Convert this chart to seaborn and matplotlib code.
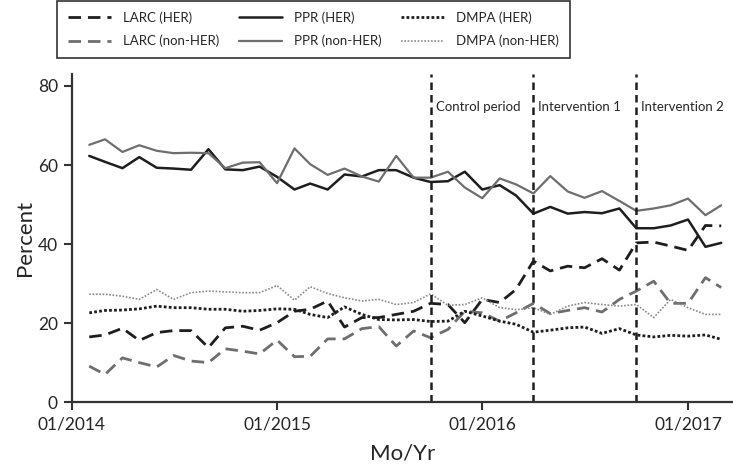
import pandas as pd
import seaborn as sns
import matplotlib.pyplot as plt
import matplotlib.dates as mdates

# monthly values, 02/2014 - 03/2017
months = pd.date_range('2014-02-01', periods=38, freq='MS')

larc_her = [16.5, 17.0, 18.7, 15.6, 17.6, 18.1, 18.1, 13.8, 18.8, 19.2, 18.2, 20.1, 23.0,
            23.5, 25.6, 19.0, 21.4, 21.4, 22.2, 23.0, 25.0, 24.7, 20.1, 26.0, 25.2, 28.5,
            35.7, 33.2, 34.4, 34.0, 36.3, 33.4, 40.3, 40.5, 39.5, 38.4, 44.7, 44.6]
larc_non = [9.1, 7.0, 11.2, 10.0, 8.9, 11.8, 10.4, 10.0, 13.5, 12.9, 12.2, 15.7, 11.5,
            11.6, 16.0, 16.0, 18.6, 19.1, 14.2, 18.0, 16.3, 18.4, 23.0, 22.6, 20.5, 22.6,
            25.0, 22.4, 23.2, 23.9, 22.8, 26.0, 28.1, 30.6, 25.0, 25.0, 31.5, 29.0]
ppr_her = [62.3, 60.8, 59.2, 62.0, 59.3, 59.1, 58.8, 64.0, 58.9, 58.7, 59.6, 57.0, 53.8,
           55.3, 53.8, 57.6, 57.1, 58.7, 58.7, 56.8, 55.7, 55.9, 58.3, 53.8, 54.9, 52.3,
           47.7, 49.4, 47.7, 48.1, 47.8, 49.0, 44.0, 44.0, 44.7, 46.2, 39.3, 40.3]
ppr_non = [65.1, 66.5, 63.3, 65.0, 63.6, 63.0, 63.1, 63.0, 59.2, 60.6, 60.7, 55.4, 64.2,
           60.2, 57.5, 59.1, 57.1, 55.8, 62.3, 56.8, 56.8, 58.3, 54.3, 51.6, 56.6, 55.1,
           52.8, 57.2, 53.3, 51.7, 53.4, 50.9, 48.4, 49.0, 49.8, 51.5, 47.3, 49.8]
dmpa_her = [22.6, 23.2, 23.3, 23.6, 24.3, 23.9, 23.9, 23.5, 23.5, 23.0, 23.2, 23.6, 23.5,
            22.2, 21.4, 24.1, 22.2, 20.9, 20.8, 20.9, 20.4, 20.5, 23.0, 21.8, 20.5, 19.7,
            17.7, 18.2, 18.8, 19.0, 17.4, 18.6, 17.0, 16.5, 16.9, 16.7, 17.0, 15.9]
dmpa_non = [27.3, 27.3, 26.8, 26.0, 28.5, 26.0, 27.7, 28.1, 27.9, 27.7, 27.7, 29.5, 25.8,
            29.2, 27.5, 26.4, 25.6, 26.0, 24.7, 25.2, 27.4, 24.5, 24.7, 26.4, 23.9, 23.4,
            23.9, 22.2, 24.3, 25.2, 24.7, 24.3, 24.7, 21.4, 26.0, 23.9, 22.2, 22.2]

periods = ['2015-10-01', '2016-04-01', '2016-10-01']
period_labels = ['Control period', 'Intervention 1', 'Intervention 2']

sns.set_style('ticks')
plt.rcParams['font.family'] = ['Lato', 'DejaVu Sans']

fig = plt.figure(figsize=(7.33, 4.72), dpi=100)
ax = fig.add_axes([0.098, 0.148, 0.902, 0.695])

black = '#1e1e1e'
grey = '#6e6e6e'
series = [
    ('LARC (HER)', larc_her, black, (0, (4.5, 2.5)), 2.0),
    ('LARC (non-HER)', larc_non, grey, (0, (4.5, 2.5)), 2.0),
    ('PPR (HER)', ppr_her, black, '-', 1.8),
    ('PPR (non-HER)', ppr_non, grey, '-', 1.6),
    ('DMPA (HER)', dmpa_her, black, (0, (1, 0.8)), 2.0),
    ('DMPA (non-HER)', dmpa_non, '#8a8a8a', (0, (1, 1)), 1.2),
]
for name, vals, col, ls, lw in series:
    sns.lineplot(x=months, y=vals, ax=ax, color=col, linestyle=ls, linewidth=lw, label=name)

for d, lab in zip(periods, period_labels):
    ax.axvline(pd.Timestamp(d), color=black, linestyle=(0, (3, 2)), linewidth=1.8)
    ax.text(pd.Timestamp(d) + pd.Timedelta(days=9), 74.6, lab, fontsize=9.5, va='center')

ax.set_ylim(0, 83)
ax.set_xlim(pd.Timestamp('2014-01-01'), pd.Timestamp('2017-03-22'))
ax.set_yticks([0, 20, 40, 60, 80])
ax.set_xticks(pd.to_datetime(['2014-01-01', '2015-01-01', '2016-01-01', '2017-01-01']))
ax.xaxis.set_major_formatter(mdates.DateFormatter('%m/%Y'))
ax.tick_params(labelsize=12.5, length=6, width=1.5, color='#333333', pad=4)
for s in ['top', 'right']:
    ax.spines[s].set_visible(False)
for s in ['left', 'bottom']:
    ax.spines[s].set_linewidth(1.6)
    ax.spines[s].set_color('#333333')

ax.set_xlabel('Mo/Yr', fontsize=16, labelpad=8)
ax.set_ylabel('Percent', fontsize=16, labelpad=2)

ax.get_legend().remove()
h, l = ax.get_legend_handles_labels()
leg = fig.legend(h, l, ncol=3, loc='upper left', bbox_to_anchor=(0.078, 0.998),
                 borderaxespad=0, frameon=True, fancybox=False, edgecolor='black',
                 fontsize=9.5, handlelength=3.3, handletextpad=0.9, columnspacing=1.45,
                 borderpad=0.8, labelspacing=0.8)
leg.get_frame().set_linewidth(1.2)

fig.savefig('out.png', dpi=100)
